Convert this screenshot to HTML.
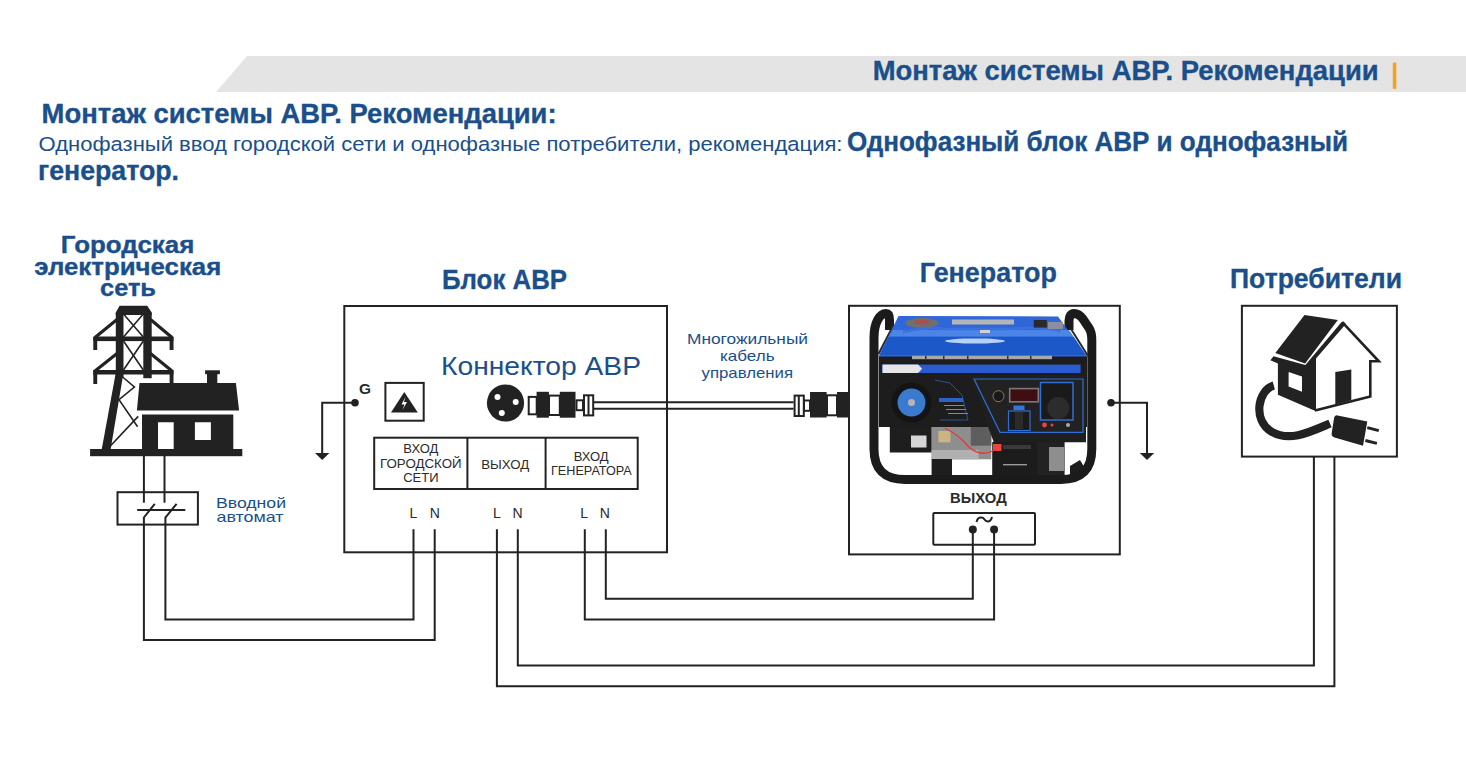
<!DOCTYPE html>
<html><head><meta charset="utf-8">
<style>
html,body{margin:0;padding:0;background:#fff;width:1466px;height:780px;overflow:hidden}
svg{display:block;font-family:"Liberation Sans",sans-serif}
.b{fill:#1a4f8b;font-weight:bold;stroke:#1a4f8b;stroke-width:0.35}
.r{fill:#1a4f8b}
.k{fill:#2a2a2a}
</style></head><body>
<svg width="1466" height="780" viewBox="0 0 1466 780">
<!-- header band -->
<polygon points="247,56 1466,56 1466,92 216,92" fill="#e4e4e4"/>
<text class="b" x="872.7" y="79.8" font-size="27" textLength="506" lengthAdjust="spacingAndGlyphs">Монтаж системы АВР. Рекомендации</text>
<rect x="1392.8" y="62.6" width="3.5" height="26.2" fill="#f2a31b"/>

<!-- headings -->
<text class="b" x="41.6" y="122.7" font-size="27" textLength="515" lengthAdjust="spacingAndGlyphs">Монтаж системы АВР. Рекомендации:</text>
<text class="r" x="38.5" y="151" font-size="20.5" textLength="804" lengthAdjust="spacingAndGlyphs">Однофазный ввод городской сети и однофазные потребители, рекомендация:</text>
<text class="b" x="847.1" y="151" font-size="27" textLength="501" lengthAdjust="spacingAndGlyphs">Однофазный блок АВР и однофазный</text>
<text class="b" x="38" y="180.3" font-size="27" textLength="141" lengthAdjust="spacingAndGlyphs">генератор.</text>

<!-- section labels -->
<text class="b" x="60.8" y="252.8" font-size="24.5" textLength="133.5" lengthAdjust="spacingAndGlyphs">Городская</text>
<text class="b" x="34.3" y="274.5" font-size="24.5" textLength="187" lengthAdjust="spacingAndGlyphs">электрическая</text>
<text class="b" x="100" y="295.5" font-size="24.5" textLength="56" lengthAdjust="spacingAndGlyphs">сеть</text>
<text class="b" x="442" y="288.8" font-size="27" textLength="125" lengthAdjust="spacingAndGlyphs">Блок АВР</text>
<text class="b" x="919.8" y="282.2" font-size="27" textLength="137" lengthAdjust="spacingAndGlyphs">Генератор</text>
<text class="b" x="1230" y="288.4" font-size="27" textLength="172" lengthAdjust="spacingAndGlyphs">Потребители</text>

<text class="r" x="441" y="375.1" font-size="25.7" textLength="200" lengthAdjust="spacingAndGlyphs">Коннектор АВР</text>
<text class="r" x="687" y="343.6" font-size="15" textLength="121" lengthAdjust="spacingAndGlyphs">Многожильный</text>
<text class="r" x="720" y="360.8" font-size="15" textLength="54.5" lengthAdjust="spacingAndGlyphs">кабель</text>
<text class="r" x="701.5" y="378.2" font-size="15" textLength="91.5" lengthAdjust="spacingAndGlyphs">управления</text>
<text class="r" x="216" y="508.3" font-size="15" textLength="70" lengthAdjust="spacingAndGlyphs">Вводной</text>
<text class="r" x="216.5" y="521.8" font-size="15" textLength="67" lengthAdjust="spacingAndGlyphs">автомат</text>

<g fill="none" stroke="#222" stroke-width="2">
  <!-- ABR box -->
  <rect x="344.3" y="306" width="322.7" height="246.3"/>
  <!-- table -->
  <rect x="374.2" y="437.7" width="263.5" height="51.3"/>
  <line x1="467.4" y1="437.7" x2="467.4" y2="489"/>
  <line x1="545.6" y1="437.7" x2="545.6" y2="489"/>
  <!-- warning box -->
  <rect x="385.4" y="382.9" width="38.3" height="37.8"/>
  <!-- gen box -->
  <rect x="849" y="305.8" width="270.8" height="248.6"/>
  <rect x="933.3" y="513" width="101.7" height="31.7" rx="1"/>
  <!-- consumers box -->
  <rect x="1241.9" y="305.8" width="155" height="150.8"/>
  <!-- breaker -->
  <rect x="117.5" y="492.2" width="80.4" height="32.4"/>
  <!-- cable -->
  <line x1="593" y1="402.2" x2="793.6" y2="402.2"/>
  <line x1="593" y1="408.8" x2="793.6" y2="408.8"/>
  <!-- grounds -->
  <polyline points="355,402.7 322.2,402.7 322.2,453"/>
  <polyline points="1111,402.7 1147,402.7 1147,453"/>
  <!-- wires: grid input -->
  <!-- gen input -->
  <polyline points="605.8,529.3 605.8,598.8 972.8,598.8 972.8,529.4"/>
  <polyline points="584.8,529.3 584.8,619.6 994.1,619.6 994.1,529.4"/>
  <!-- output -->
  <polyline points="517.8,529.3 517.8,665.6 1313.9,665.6 1313.9,456.6"/>
  <polyline points="496.9,529.3 496.9,686.2 1334.4,686.2 1334.4,456.6"/>
  <!-- tilde -->
  <path d="M976.5,522 C978,516 983,517 984.5,519.5 C986,522 990.5,523 992,517"/>
</g>
<g fill="#222">
  <circle cx="355" cy="402.7" r="3.8"/>
  <circle cx="1111" cy="402.7" r="3.8"/>
  <polygon points="315,453 329.4,453 322.2,460"/>
  <polygon points="1139.8,453 1154.2,453 1147,460"/>
  <circle cx="972.8" cy="529.4" r="4"/>
  <circle cx="994.1" cy="529.4" r="4"/>
</g>

<!-- table text -->
<g class="k" font-size="13" text-anchor="middle">
  <text x="420.8" y="453.4">ВХОД</text>
  <text x="420.8" y="468" textLength="81.5" lengthAdjust="spacingAndGlyphs">ГОРОДСКОЙ</text>
  <text x="420.8" y="482.2">СЕТИ</text>
  <text x="505.2" y="468.7" textLength="48" lengthAdjust="spacingAndGlyphs">ВЫХОД</text>
  <text x="591.2" y="460.6">ВХОД</text>
  <text x="591.4" y="474.8" textLength="80.8" lengthAdjust="spacingAndGlyphs">ГЕНЕРАТОРА</text>
</g>
<g class="k" font-size="14" text-anchor="middle">
  <text x="413.5" y="517.8">L</text><text x="434.7" y="517.8">N</text>
  <text x="496.9" y="517.8">L</text><text x="517.6" y="517.8">N</text>
  <text x="584.2" y="517.8">L</text><text x="604.9" y="517.8">N</text>
</g>
<text class="k" x="365" y="393.6" font-size="15.5" font-weight="bold" text-anchor="middle">G</text>
<text class="k" x="978.4" y="502.5" font-size="14.5" font-weight="bold" text-anchor="middle" textLength="56.6" lengthAdjust="spacingAndGlyphs">ВЫХОД</text>


<!-- breaker internals -->
<g stroke="#222" stroke-width="2" fill="none">
  <line x1="143.9" y1="456" x2="143.9" y2="502.7"/>
  <line x1="164.5" y1="456" x2="164.5" y2="502.7"/>
  <polyline points="154.8,503.8 143.9,517.5 143.9,640 434.7,640 434.7,529.3"/>
  <polyline points="176.6,503.8 165.4,517.5 165.4,619.5 413.5,619.5 413.5,529.3"/>
  <line x1="137.2" y1="510" x2="185.3" y2="510"/>
</g>
<!-- tower + house icon -->
<g fill="#222">
  <polygon points="119.6,305.8 147.2,305.8 151.7,312.5 151.7,315 115.8,315 115.8,312.5"/>
  <rect x="115.8" y="313" width="7.7" height="64"/>
  <rect x="143.3" y="313" width="8.4" height="65.2"/>
  <polygon points="115.8,372.8 123.5,372.8 110.6,449.5 101.7,449.5"/>
  <rect x="93.3" y="336.5" width="80.2" height="4.6"/>
  <rect x="93.3" y="337" width="3.9" height="13"/>
  <rect x="169.6" y="337" width="3.9" height="13"/>
  <rect x="93.3" y="370" width="80.2" height="4.5"/>
  <rect x="93.3" y="370" width="3.9" height="14"/>
  <rect x="169.6" y="370" width="3.9" height="14"/>
  <rect x="90.1" y="449" width="152.2" height="7.2"/>
  <polygon points="139.5,383 235.9,383 239.1,410.6 136.9,410.6"/>
  <rect x="205.1" y="370.3" width="14.8" height="3.9"/>
  <rect x="207" y="373.5" width="10.3" height="10"/>
  <path d="M142,414.5 H233.3 V449 H142 Z M158,422.2 V449 H173.7 V422.2 Z M194.9,422.2 V440.1 H210.9 V422.2 Z" fill-rule="evenodd"/>
</g>
<g stroke="#222" fill="none">
  <g stroke-width="3.2">
    <line x1="117" y1="319.5" x2="95" y2="337.5"/>
    <line x1="150.5" y1="319.5" x2="172" y2="337.5"/>
    <line x1="117" y1="353.5" x2="95" y2="371"/>
    <line x1="150.5" y1="353.5" x2="172" y2="371"/>
  </g>
  <g stroke-width="1.6">
    <line x1="123.5" y1="314" x2="143.3" y2="337"/>
    <line x1="143.3" y1="314" x2="123.5" y2="337"/>
    <line x1="123.5" y1="341" x2="143.3" y2="370"/>
    <line x1="143.3" y1="341" x2="123.5" y2="370"/>
    <polyline points="122,376.5 134.4,387 119,399.7 137.6,426.7"/>
    <line x1="138.2" y1="416.4" x2="108" y2="448.5"/>
  </g>
</g>
<!-- consumer house icon -->
<g fill="#222">
  <polygon points="1304.5,314.9 1337.8,320.1 1305.1,363.5 1275.3,353.1"/>
  <polygon points="1270.4,360.3 1273.5,356.2 1305.4,365 1341.2,322.5 1343.2,321.3 1345.8,324 1316,358.5 1316,411.3 1277.9,394.7 1277.9,363.6"/>
  <polygon points="1335.3,372 1351.3,369.5 1351.3,400.3 1335.3,404.5"/>
  <path d="M1273.8,385.5 C1258,390 1252,420 1272,432 C1290,442 1310,432 1330,423.5" fill="none" stroke="#222" stroke-width="8.2"/>
  <path d="M1337.5,415.4 L1367.3,421.6 L1363,445.7 L1334.5,437.5 Q1331.2,436.5 1331.7,433 L1334,418.5 Q1334.6,415 1337.5,415.4 Z"/>
</g>
<g fill="none" stroke="#222">
  <polyline points="1342.9,322.8 1378.8,361.3 1370.3,361.3 1370.3,396.6 1315,410.6" stroke-width="2.6" stroke-linejoin="miter"/>
  <line x1="1367.3" y1="427.6" x2="1378.8" y2="430.6" stroke-width="3"/>
  <line x1="1365.4" y1="440.5" x2="1376.9" y2="443.4" stroke-width="3"/>
</g>
<polygon points="1288.6,371.9 1302,376.4 1302,391.7 1288.6,386.5" fill="#fff"/>
<!-- warning triangle -->
<polygon points="404.3,392 417.8,412.5 391,412.5" fill="#222"/>
<path d="M405.5,397 L401.5,404.5 L404.5,404.5 L402.5,410 L407,402 L404,402 Z" fill="#fff"/>
<!-- ABR connector -->
<g fill="#222">
  <circle cx="505.5" cy="403" r="18.6"/>
  <rect x="536.6" y="391.8" width="12.3" height="25.9"/>
  <rect x="559.8" y="391.8" width="15.7" height="25.9"/>
  <rect x="810" y="392" width="16.6" height="25.5"/>
  <rect x="837" y="392" width="12" height="25.5"/>
</g>
<g fill="#fff">
  <circle cx="497.5" cy="396.9" r="3"/>
  <circle cx="515.7" cy="402" r="3"/>
  <circle cx="501.8" cy="413" r="3"/>
</g>
<g fill="none" stroke="#222" stroke-width="2">
  <rect x="528.7" y="396.9" width="8" height="17.4"/>
  <rect x="549" y="395.6" width="10.8" height="19.4"/>
  <rect x="576.5" y="400.3" width="6.5" height="9.9"/>
  <rect x="584" y="395.3" width="9.2" height="20.1"/>
  <line x1="588.5" y1="395.3" x2="588.5" y2="415.4"/>
  <rect x="794.6" y="395.6" width="9.2" height="20.4"/>
  <line x1="798.8" y1="395.6" x2="798.8" y2="416"/>
  <rect x="804" y="400.5" width="6" height="10.3"/>
  <rect x="827" y="395.3" width="10" height="20"/>
</g>


<!-- generator photo approximation -->
<g>
  <!-- lower engine parts -->
  <rect x="889.8" y="425" width="42" height="27.5" fill="#1e1e1e"/>
  <rect x="911" y="435.5" width="15.5" height="12" fill="#d5d5d5"/>
  <rect x="931.6" y="425" width="59.7" height="34.3" fill="#8e8e8e"/>
  <rect x="931.6" y="450" width="47" height="9.3" fill="#b0b0b0"/>
  <rect x="970.8" y="425" width="20.5" height="20.7" fill="#5e5e5e"/>
  <rect x="938.4" y="431" width="12" height="11.3" fill="#c8b582"/>
  <rect x="931.6" y="459" width="20.4" height="16.5" fill="#1e1e1e"/>
  <rect x="1037" y="442" width="27.6" height="34" fill="#222"/>
  <rect x="1049" y="447" width="15" height="24" fill="#8e8e8e"/>
  <polygon points="1070,466 1080,460 1086,470 1080,476 1070,476" fill="#1e1e1e"/>
  <rect x="992.2" y="442" width="45.2" height="34.4" fill="#1c1c1c"/><rect x="1003" y="445" width="28" height="4" fill="#3a3a3a"/>
  <rect x="1003" y="464" width="24" height="1.4" fill="#9a9a9a"/>
  <rect x="993" y="444" width="8.5" height="7" fill="#e8453c"/>
  <path d="M945,428 Q960,436 968,446 Q980,458 995,450" fill="none" stroke="#e23a32" stroke-width="1.4"/>
  <!-- body -->
  <rect x="879" y="356" width="208" height="71" fill="#1d1d1d"/>
  <polygon points="969,376 1086,376 1086,442.3 993.8,442.3" fill="#1f1f1f"/>
  <!-- frame tube -->
  <path d="M889.5,330 L889.5,320 C889.5,316 889,313.5 886,313.5 C880,313.5 874,322 874,338 L874,449 Q874,479.5 905,479.5 L1061,479.5 Q1091.8,479.5 1091.8,449 L1091.8,340 C1091.8,334 1091,331 1089,328 L1083,319 C1080,315 1078,313.5 1074,313.5 C1071,313.5 1069,316 1069,321 L1069,330" fill="none" stroke="#1b1b1b" stroke-width="9"/>
  <line x1="878.5" y1="354" x2="893" y2="326" stroke="#2a2a2a" stroke-width="2"/>
  <line x1="1071" y1="329" x2="1088" y2="356" stroke="#2a2a2a" stroke-width="2"/>
  <!-- tank -->
  <polygon points="898.5,316 1058,316.5 1087,356.4 878.6,356.4" fill="#2f66d8"/>
  <polygon points="889,336.5 1073.5,336.5 1086,355 879.5,355" fill="#1c58c8"/><polygon points="893,330 1069,330 1073.5,336.5 889,336.5" fill="#4d85e6"/>
  <path d="M903,332 Q930,326 945,329 L1010,329 Q1040,326 1060,331" fill="none" stroke="#3c70e0" stroke-width="2.5"/>
  <ellipse cx="975" cy="341" rx="30" ry="2.6" fill="#b8d0fa"/>
  <ellipse cx="922" cy="323" rx="16.5" ry="5" fill="#707070"/>
  <ellipse cx="922" cy="322" rx="8" ry="2.5" fill="#a85050"/>
  <rect x="952" y="319.5" width="62" height="5" fill="#b5b5b5"/>
  <rect x="980" y="330" width="10" height="3" fill="#d0d0d0"/>
  <rect x="1033.8" y="320" width="13" height="7.6" fill="#2a2a2a"/>
  <rect x="1048" y="322" width="15" height="7" fill="#8a90a0"/>
  <!-- label strip -->
  <rect x="912" y="355.8" width="140" height="3.4" fill="#a8a8a8"/><rect x="925" y="355.8" width="1.5" height="3.4" fill="#333"/><rect x="943" y="355.8" width="1.5" height="3.4" fill="#333"/><rect x="967" y="355.8" width="1.5" height="3.4" fill="#333"/><rect x="1007" y="355.8" width="1.5" height="3.4" fill="#333"/><rect x="1030" y="355.8" width="1.5" height="3.4" fill="#333"/>
  <!-- blue strip with white arrow -->
  <rect x="882" y="364.6" width="198.6" height="8.4" fill="#2a5bd0"/>
  <polygon points="882.5,364.6 918,364.6 922.2,368.8 918,373 882.5,373" fill="#e6e6e6"/>
  <!-- recoil starter -->
  <circle cx="911.5" cy="402.6" r="20" fill="#141414"/>
  <circle cx="911.5" cy="402.6" r="14" fill="#3a7bd0"/>
  <circle cx="911.5" cy="402.6" r="3.5" fill="#b5b5b5"/>
  <path d="M935,380 L950,383 L962,395 L968,420 L940,420" fill="none" stroke="#2f5fb8" stroke-width="0.8"/>
  <rect x="939" y="398" width="24" height="4" fill="#2f62c8"/>
  <rect x="944" y="405" width="20" height="1" fill="#888"/>
  <rect x="946" y="409" width="20" height="1" fill="#888"/>
  <rect x="948" y="413" width="20" height="1" fill="#888"/>
  <!-- control panel -->
  <path d="M974,379 L1083,379 L1083,432.3 L1000,432.3 Z" fill="#222" stroke="#2f6fd5" stroke-width="1.2"/>
  <rect x="1008.9" y="387.8" width="30.3" height="14.8" fill="#7a7a7a"/>
  <rect x="1010.5" y="389.4" width="27" height="11.6" fill="#3d0e12"/>
  <circle cx="998.5" cy="396.2" r="5.5" fill="#181818" stroke="#8a7a55" stroke-width="1"/>
  <rect x="1040.5" y="382.5" width="32.5" height="37.5" fill="#1a1a1a" stroke="#2f6fd5" stroke-width="1.5"/>
  <circle cx="1058.3" cy="408" r="11" fill="#2c2c2c"/>
  <rect x="1008.5" y="411" width="21.5" height="19.5" fill="#1a1a1a" stroke="#2f6fd5" stroke-width="1.2"/>
  <rect x="1013.5" y="405.5" width="11" height="4.5" fill="#3576d8"/>
  <rect x="1015" y="412" width="8" height="17" fill="#2b2b2b"/>
  <circle cx="1044.5" cy="425" r="2.4" fill="#e8453c"/>
  <circle cx="1052" cy="425" r="1.5" fill="#e8453c"/>
  <circle cx="1068" cy="425" r="2" fill="#aaa"/>
</g>
</svg>
</body></html>
